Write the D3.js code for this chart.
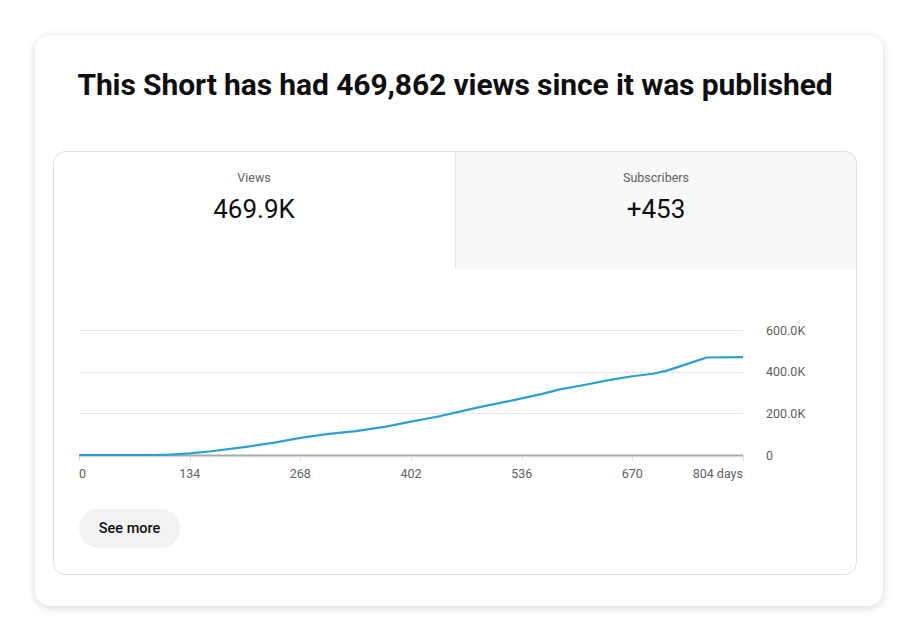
<!DOCTYPE html>
<html><head><meta charset="utf-8">
<script src="https://cdn.jsdelivr.net/npm/d3@7"></script>
<style>html,body{margin:0;padding:0;background:#fff;}svg{display:block;font-family:Roboto,"Noto Sans",sans-serif;}</style>
</head><body>
<svg id="c" width="918" height="641"></svg>
<script>
const titleText = "This Short has had 469,862 views since it was published";
const tabLabels = ["Views", "Subscribers"];
const tabValues = ["469.9K", "+453"];
const days =  [0, 60, 92, 110, 134, 160, 200, 235, 268, 300, 335, 370, 402, 435, 461, 485, 510, 536, 560, 582, 610, 640, 670, 695, 712, 735, 760, 804];
const views = [0, 0, 0, 2000, 8000, 18000, 38000, 58000, 82000, 100000, 115000, 135000, 160000, 185000, 208000, 230000, 250000, 272000, 292000, 315000, 335000, 358000, 378000, 390000, 405000, 435000, 468000, 469862];
const xTicks = [0, 134, 268, 402, 536, 670, 804];
const yTicks = [0, 200000, 400000, 600000];
const yTickLabels = ["0", "200.0K", "400.0K", "600.0K"];
const buttonLabel = "See more";

const svg = d3.select("#c");
const defs = svg.append("defs");
const f = defs.append("filter").attr("id","sh").attr("x","-10%").attr("y","-10%").attr("width","120%").attr("height","125%");
f.append("feDropShadow").attr("dx",0).attr("dy",2).attr("stdDeviation",4).attr("flood-color","#000").attr("flood-opacity",0.16);

// outer card
svg.append("rect").attr("x",35).attr("y",35).attr("width",848).attr("height",571).attr("rx",16)
  .attr("fill","#fff").attr("filter","url(#sh)");

svg.append("text").attr("x",455).attr("y",95).attr("text-anchor","middle")
  .attr("font-size",30).attr("font-weight",700).attr("fill","#0f0f0f").attr("letter-spacing",-0.1).text(titleText);

// inner card
const cx0=53, cy0=151, cw=804, ch=424;
defs.append("clipPath").attr("id","ic").append("rect").attr("x",cx0).attr("y",cy0).attr("width",cw).attr("height",ch).attr("rx",12);
const inner = svg.append("g").attr("clip-path","url(#ic)");
inner.append("rect").attr("x",cx0).attr("y",cy0).attr("width",cw).attr("height",ch).attr("fill","#fff");
inner.append("rect").attr("x",455).attr("y",cy0).attr("width",402).attr("height",118).attr("fill","#f8f8f8");
inner.append("line").attr("x1",455.5).attr("x2",455.5).attr("y1",cy0).attr("y2",269).attr("stroke","#e5e5e5");
svg.append("rect").attr("x",cx0+0.5).attr("y",cy0+0.5).attr("width",cw-1).attr("height",ch-1).attr("rx",12)
  .attr("fill","none").attr("stroke","#e0e0e0");

const tabCenters=[254,656];
tabLabels.forEach((t,i)=>{
  svg.append("text").attr("x",tabCenters[i]).attr("y",182).attr("text-anchor","middle")
    .attr("font-size",12.5).attr("fill","#606060").text(t);
  svg.append("text").attr("x",tabCenters[i]).attr("y",218).attr("text-anchor","middle")
    .attr("font-size",26).attr("fill","#0f0f0f").text(tabValues[i]);
});

// chart
const x = d3.scaleLinear().domain([0,804]).range([79,743]);
const y = d3.scaleLinear().domain([0,600000]).range([455,330]);
const g = svg.append("g");
g.selectAll("line.grid").data(yTicks.slice(1)).join("line").attr("class","grid")
  .attr("x1",79).attr("x2",743).attr("y1",d=>Math.round(y(d))+0.5).attr("y2",d=>Math.round(y(d))+0.5)
  .attr("stroke","#e5e5e5");
// x tick marks
g.selectAll("line.xt").data(xTicks).join("line").attr("class","xt")
  .attr("x1",d=>Math.round(x(d))+0.5).attr("x2",d=>Math.round(x(d))+0.5).attr("y1",455).attr("y2",461)
  .attr("stroke","#e0e0e0");
g.append("line").attr("x1",79).attr("x2",743).attr("y1",455.5).attr("y2",455.5).attr("stroke","#aaaaaa").attr("stroke-width",2);

const line = d3.line().x((d,i)=>x(days[i])).y(d=>y(d));
g.append("path").datum(views).attr("d",line).attr("fill","none").attr("stroke","#2aa0d1").attr("stroke-width",2.2)
  .attr("stroke-linejoin","round");

g.selectAll("text.xl").data(xTicks).join("text").attr("class","xl")
  .attr("x",d=>x(d)).attr("y",478).attr("font-size",12.5).attr("fill","#606060")
  .attr("text-anchor",(d,i)=>i===0?"start":(i===xTicks.length-1?"end":"middle"))
  .text((d,i)=>i===xTicks.length-1? d+" days" : d);
g.selectAll("text.yl").data(yTicks).join("text").attr("class","yl")
  .attr("x",766).attr("y",d=>y(d)+4.5).attr("font-size",12.5).attr("fill","#606060")
  .text((d,i)=>yTickLabels[i]);

// button
svg.append("rect").attr("x",79).attr("y",509).attr("width",101).attr("height",39).attr("rx",19.5).attr("fill","#f2f2f2");
svg.append("text").attr("x",129.5).attr("y",533).attr("text-anchor","middle").attr("font-size",14.5)
  .attr("font-weight",500).attr("fill","#0f0f0f").text(buttonLabel);
</script>
</body></html>
